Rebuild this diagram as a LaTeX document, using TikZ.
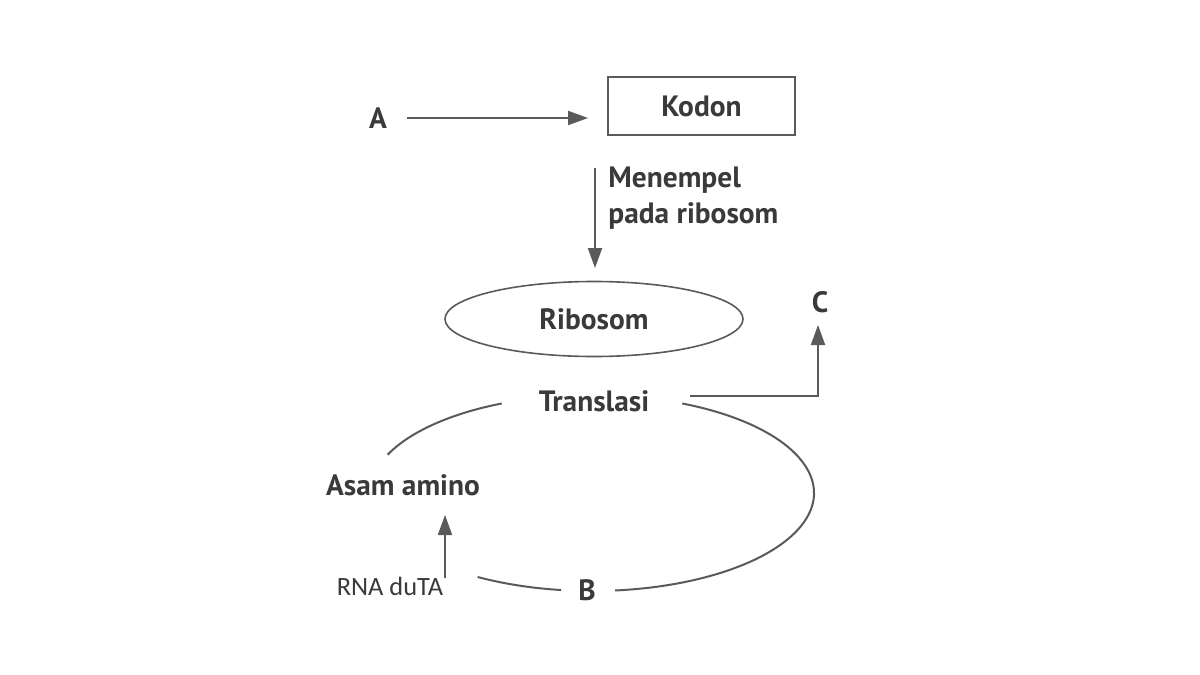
\documentclass[tikz,border=0pt]{standalone}
\usepackage{fontspec}
\setmainfont{PT Sans}
\newfontfamily\rnafont{Carlito}
\usetikzlibrary{arrows.meta,shapes.geometric}
\definecolor{txt}{HTML}{3A3A3A}
\definecolor{ln}{HTML}{5A5A5A}
\begin{document}
\begin{tikzpicture}[x=0.5pt,y=0.5pt,
  lbl/.style={text=txt,inner sep=0pt,font=\bfseries\fontsize{14.7}{18}\selectfont},
  conn/.style={draw=ln,line width=1pt,-{Triangle[length=10pt,width=7pt]}},
  curve/.style={draw=ln,line width=1pt}]
\useasboundingbox[fill=white] (0,0) rectangle (1200,-675);
% nodes
\node[lbl] (A) at (378,-118) {A};
\node[lbl,draw=ln,line width=0.8pt,minimum width=93.5pt,minimum height=29pt] (Kodon) at (701.5,-106) {Kodon};
\node[lbl,anchor=base west] (Men1) at (608,-187) {Menempel};
\node[lbl,anchor=base west] (Men2) at (608,-223) {pada ribosom};
\node[lbl,ellipse,draw=ln,line width=0.8pt,minimum width=149pt,minimum height=37.5pt] (Ribosom) at (594,-319) {Ribosom};
\node[lbl] (C) at (820,-302) {C};
\node[lbl] (Translasi) at (594,-401) {Translasi};
\node[lbl] (Asam) at (403,-485) {Asam amino};
\node[text=txt,inner sep=0pt,anchor=base,font=\rnafont\fontsize{13.2}{16}\selectfont] (RNA) at (390,-595) {RNA duTA};
\node[lbl] (B) at (587,-590) {B};
% coordinates
\coordinate (a1) at (407,-118);
\coordinate (a2) at (588,-118);
\coordinate (k1) at (595,-168);
\coordinate (k2) at (595,-268);
\coordinate (t1) at (690,-396);
\coordinate (c1) at (818,-325);
\coordinate (r1) at (445,-578);
\coordinate (r2) at (445,-515);
\coordinate (ec) at (592,-493);
% connectors
\draw[conn] (a1) -- (a2);
\draw[conn] (k1) -- (k2);
\draw[conn] (t1) -| (c1);
\draw[conn] (r1) -- (r2);
% cycle
\draw[curve] (ec) ++(114:222 and 98) arc[start angle=114,end angle=157,x radius=222,y radius=98];
\draw[curve] (ec) ++(66:222 and 98) arc[start angle=66,end angle=-84,x radius=222,y radius=98];
\draw[curve] (ec) ++(-121:222 and 98) arc[start angle=-121,end angle=-98,x radius=222,y radius=98];
\end{tikzpicture}
\end{document}
